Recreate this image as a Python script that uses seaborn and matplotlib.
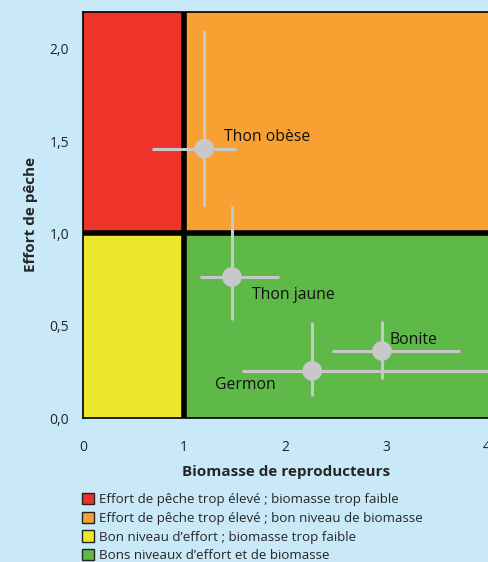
import matplotlib
matplotlib.use("Agg")
import matplotlib.pyplot as plt
from matplotlib.patches import Patch
import seaborn as sns
import pandas as pd

species = ["Thon obèse", "Thon jaune", "Bonite", "Germon"]
biomass = [1.20, 1.475, 2.96, 2.27]
effort = [1.46, 0.764, 0.363, 0.255]
bio_low = [0.68, 1.16, 2.47, 1.57]
bio_high = [1.51, 1.94, 3.73, 4.6]
eff_low = [1.15, 0.53, 0.21, 0.12]
eff_high = [2.10, 1.15, 0.527, 0.52]
label_pos = [(1.40, 1.52), (1.67, 0.667), (3.03, 0.42), (1.31, 0.18)]

legend_labels = [
    "Effort de pêche trop élevé ; biomasse trop faible",
    "Effort de pêche trop élevé ; bon niveau de biomasse",
    "Bon niveau d\u2019effort ; biomasse trop faible",
    "Bons niveaux d\u2019effort et de biomasse",
]
colors = ["#EE332B", "#F8A032", "#EDE62B", "#5EB948"]
xticks = [0, 1, 2, 3, 4]
xtick_labels = ["0", "1", "2", "3", "4"]
yticks = [0.0, 0.5, 1.0, 1.5, 2.0]
ytick_labels = ["0,0", "0,5", "1,0", "1,5", "2,0"]

df = pd.DataFrame({"species": species, "biomass": biomass, "effort": effort})

sns.set_style("white")
plt.rcParams["font.family"] = ["Open Sans", "DejaVu Sans"]
bg = "#C9E9F9"
fig = plt.figure(figsize=(4.89, 5.62), dpi=100, facecolor=bg)
ax = fig.add_axes([83 / 489, (562 - 418) / 562, (489 - 83) / 489, (418 - 12) / 562])
ax.set_facecolor(bg)

xmax = 4.02
ymax = 2.2
ax.fill_between([0, 1], 1, ymax, color=colors[0], lw=0)
ax.fill_between([1, xmax], 1, ymax, color=colors[1], lw=0)
ax.fill_between([0, 1], 0, 1, color=colors[2], lw=0)
ax.fill_between([1, xmax], 0, 1, color=colors[3], lw=0)
ax.axvline(1, color="black", lw=4, zorder=3)
ax.axhline(1, color="black", lw=4, zorder=3)

grey = "#C8C8CB"
for i in range(len(species)):
    ax.plot([bio_low[i], bio_high[i]], [effort[i], effort[i]], color=grey, lw=2.2, zorder=4, solid_capstyle="butt")
    ax.plot([biomass[i], biomass[i]], [eff_low[i], eff_high[i]], color=grey, lw=2.2, zorder=4, solid_capstyle="butt")
sns.scatterplot(data=df, x="biomass", y="effort", ax=ax, s=200, color=grey, edgecolor="none", zorder=5, legend=False)
for i, (lx, ly) in enumerate(label_pos):
    ax.text(lx, ly, species[i], fontsize=11.3, color="#111111", ha="left", va="center", zorder=6)

ax.set_xlim(0, xmax)
ax.set_ylim(0, ymax)
ax.set_xticks(xticks)
ax.set_xticklabels(xtick_labels)
ax.set_yticks(yticks)
ax.set_yticklabels(ytick_labels)
ax.tick_params(axis="both", direction="out", length=7, width=1, color="#333333", labelsize=10, colors="#222222", pad=3)
ax.tick_params(axis="x", pad=9)
for s in ax.spines.values():
    s.set_color("black")
    s.set_linewidth(1.2)
ax.spines["right"].set_visible(False)
ax.set_xlabel("Biomasse de reproducteurs", fontsize=11, fontweight="bold", labelpad=7)
ax.set_ylabel("Effort de pêche", fontsize=11, fontweight="bold", labelpad=8)

handles = [Patch(facecolor=c, edgecolor="#222222", linewidth=1) for c in colors]
fig.legend(handles, legend_labels, loc="upper left", bbox_to_anchor=(82 / 489, 1 - 493 / 562),
           frameon=False, fontsize=9.6, handlelength=0.9, handleheight=0.9, handletextpad=0.4,
           labelspacing=0.42, borderaxespad=0, borderpad=0)

fig.savefig("out.png", dpi=100, facecolor=bg)
